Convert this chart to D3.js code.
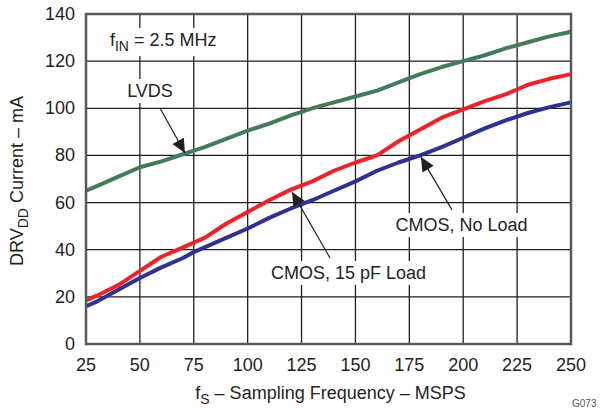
<!DOCTYPE html>
<html lang="en">
  <head>
    <meta charset="UTF-8" />
    <title>DRVDD Current vs Sampling Frequency</title>
    <style>
      body { margin: 0; background: #fff; }
      text { font-family: "Liberation Sans", Arial, sans-serif; fill: #231f20; }
    </style>
  </head>
  <body>
    <script src="https://cdn.jsdelivr.net/npm/d3@7"></script>
    <script>

      // sampling frequency (MSPS)
      var freq = [25, 30, 40, 50, 60, 70, 75, 80, 90, 100, 110, 120, 130, 140, 150, 160, 170, 180, 190, 200, 210, 220, 230, 240, 250];

      // DRVDD current (mA) for each output mode
      var lvds    = [65, 67, 71, 75, 77.5, 80.5, 82, 83.5, 87, 90.5, 93.5, 97, 100, 102.5, 105, 107.5, 111, 114.5, 117.5, 120, 122.5, 125.5, 128, 130.5, 132.5];
      var cmos15  = [18.5, 20.5, 25, 31, 37, 41, 43, 45, 51, 56, 61, 65.5, 69, 73.5, 77, 80, 86, 91, 96, 99.5, 103, 106, 110, 112.5, 114.5];
      var cmosNo  = [16, 18, 23, 28, 32.5, 36.5, 39, 41, 45, 49, 53.5, 57.5, 61, 65, 69, 73.5, 77, 80, 83.5, 87.5, 91.5, 95, 98, 100.5, 102.5];

      var xTicks = [25, 50, 75, 100, 125, 150, 175, 200, 225, 250];
      var yTicks = [0, 20, 40, 60, 80, 100, 120, 140];

      var w = 606, h = 408;
      var margin = { top: 14, right: 35, bottom: 64, left: 86 };

      var svg = d3.select("body").append("svg")
                  .attr("width", w)
                  .attr("height", h);

      var xScale = d3.scaleLinear().domain([25, 250]).range([margin.left, w - margin.right]);
      var yScale = d3.scaleLinear().domain([0, 140]).range([h - margin.bottom, margin.top]);

      // arrow head
      svg.append("defs").append("marker")
         .attr("id", "head")
         .attr("markerUnits", "userSpaceOnUse")
         .attr("viewBox", "-15 -8 16 16")
         .attr("markerWidth", 16)
         .attr("markerHeight", 16)
         .attr("refX", 0)
         .attr("refY", 0)
         .attr("orient", "auto")
         .append("path")
         .attr("d", "M0,0 L-14,-6.5 L-14,6.5 Z")
         .style("fill", "#231f20");

      // grid
      svg.append("g").selectAll("line")
         .data(xTicks)
         .enter().append("line")
         .attr("x1", function(d) { return xScale(d); })
         .attr("x2", function(d) { return xScale(d); })
         .attr("y1", yScale(0))
         .attr("y2", yScale(140))
         .style("stroke", "#231f20")
         .style("stroke-width", 1.3);

      svg.append("g").selectAll("line")
         .data(yTicks)
         .enter().append("line")
         .attr("x1", xScale(25))
         .attr("x2", xScale(250))
         .attr("y1", function(d) { return yScale(d); })
         .attr("y2", function(d) { return yScale(d); })
         .style("stroke", "#231f20")
         .style("stroke-width", 1.3);

      // tick labels
      svg.append("g").selectAll("text")
         .data(xTicks)
         .enter().append("text")
         .attr("x", function(d) { return xScale(d); })
         .attr("y", yScale(0) + 27)
         .attr("text-anchor", "middle")
         .style("font-size", "18px")
         .text(function(d) { return d; });

      svg.append("g").selectAll("text")
         .data(yTicks)
         .enter().append("text")
         .attr("x", margin.left - 11)
         .attr("y", function(d) { return yScale(d) + 6; })
         .attr("text-anchor", "end")
         .style("font-size", "18px")
         .text(function(d) { return d; });

      // series
      var series = [
        { values: lvds,   color: "#447b5c" },
        { values: cmos15, color: "#ef2129" },
        { values: cmosNo, color: "#2e3192" }
      ];

      var line = d3.line()
                   .x(function(d, i) { return xScale(freq[i]); })
                   .y(function(d) { return yScale(d); });

      series.forEach(function(s) {
        svg.append("path")
           .datum(s.values)
           .attr("d", line)
           .style("fill", "none")
           .style("stroke", s.color)
           .style("stroke-width", 4)
           .style("stroke-linejoin", "round");
      });

      // frame
      svg.append("rect")
         .attr("x", xScale(25))
         .attr("y", yScale(140))
         .attr("width", xScale(250) - xScale(25))
         .attr("height", yScale(0) - yScale(140))
         .style("fill", "none")
         .style("stroke", "#58595b")
         .style("stroke-width", 2.5);

      // annotations, in data units
      var labels = [
        { text: "LVDS", x: 54.7, y: 104.8, from: [59.3, 100.1], to: [70.9, 81] },
        { text: "CMOS, 15 pF Load", x: 146.8, y: 27.6, from: [138.2, 36.5], to: [120.6, 64.5] },
        { text: "CMOS, No Load", x: 199.2, y: 47.9, from: [194.8, 56.9], to: [180.4, 79.3] }
      ];

      function whiteBox(t) {
        var b = t.node().getBBox();
        svg.insert("rect", function() { return t.node(); })
           .attr("x", b.x - 3)
           .attr("y", b.y - 2)
           .attr("width", b.width + 6)
           .attr("height", b.height + 4)
           .style("fill", "#fff");
      }

      labels.forEach(function(l) {
        svg.append("line")
           .attr("x1", xScale(l.from[0]))
           .attr("y1", yScale(l.from[1]))
           .attr("x2", xScale(l.to[0]))
           .attr("y2", yScale(l.to[1]))
           .style("stroke", "#231f20")
           .style("stroke-width", 1.2)
           .attr("marker-end", "url(#head)");

        var t = svg.append("text")
           .attr("x", xScale(l.x))
           .attr("y", yScale(l.y))
           .attr("text-anchor", "middle")
           .style("font-size", "18px")
           .text(l.text);
        whiteBox(t);
      });

      var fin = svg.append("text")
         .attr("x", xScale(36.1))
         .attr("y", yScale(126.4))
         .style("font-size", "18px");
      fin.append("tspan").text("f");
      fin.append("tspan").attr("dy", 5).style("font-size", "14px").text("IN");
      fin.append("tspan").attr("dy", -5).text(" = 2.5 MHz");
      whiteBox(fin);

      // axis titles
      var xt = svg.append("text")
         .attr("x", (xScale(25) + xScale(250)) / 2 + 2)
         .attr("y", 399)
         .attr("text-anchor", "middle")
         .style("font-size", "18px");
      xt.append("tspan").text("f");
      xt.append("tspan").attr("dy", 5).style("font-size", "14px").text("S");
      xt.append("tspan").attr("dy", -5).text(" \u2013 Sampling Frequency \u2013 MSPS");

      var yt = svg.append("text")
         .attr("transform", "translate(23," + ((yScale(0) + yScale(140)) / 2 + 2) + ") rotate(-90)")
         .attr("text-anchor", "middle")
         .style("font-size", "18px");
      yt.append("tspan").text("DRV");
      yt.append("tspan").attr("dy", 5).style("font-size", "14px").text("DD");
      yt.append("tspan").attr("dy", -5).text(" Current \u2013 mA");

      svg.append("text")
         .attr("x", 572)
         .attr("y", 407)
         .style("font-size", "10px")
         .style("fill", "#555")
         .text("G073");

    </script>
  </body>
</html>
